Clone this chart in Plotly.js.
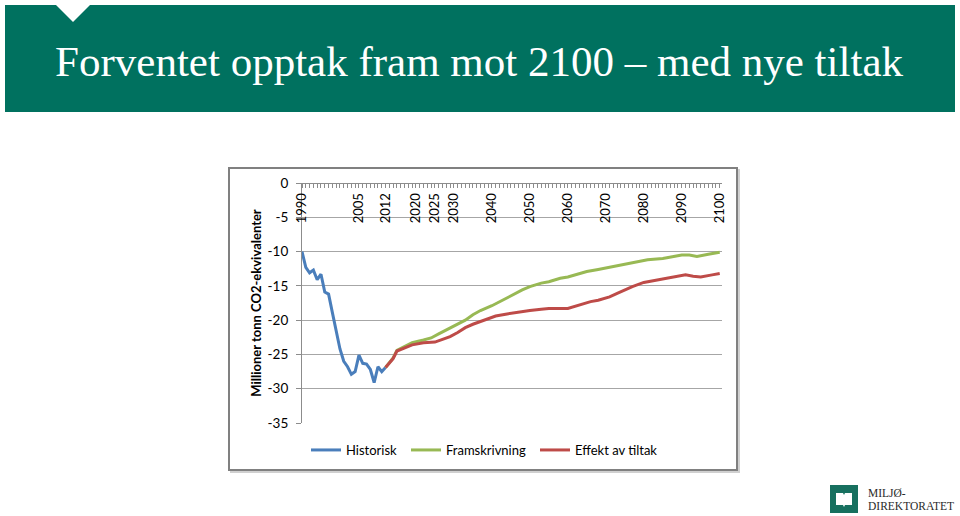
<!DOCTYPE html>
<html>
<head>
<meta charset="utf-8">
<script src="https://cdn.plot.ly/plotly-3.0.1.min.js"></script>
<style>
  html, body { margin: 0; padding: 0; background: #ffffff; }
  #chart { width: 960px; height: 516px; }
</style>
</head>
<body>
<div id="chart"></div>
<script>
// ---------- data ----------
const histYears = [1990,1991,1992,1993,1994,1995,1996,1997,1998,1999,2000,2001,2002,2003,2004,2005,2006,2007,2008,2009,2010,2011,2012];
const historisk = [-10.0,-12.3,-13.1,-12.7,-14.1,-13.3,-15.9,-16.2,-18.9,-21.6,-24.2,-26.0,-26.8,-27.9,-27.5,-25.1,-26.3,-26.4,-27.2,-29.1,-26.8,-27.5,-26.9];

const framYears = [2012,2013,2014,2015,2017,2019,2022,2024,2026,2028,2030,2033,2035,2037,2040,2042,2045,2048,2050,2053,2055,2058,2060,2063,2065,2068,2071,2074,2078,2081,2085,2088,2090,2092,2094,2097,2100];
const framskrivning = [-26.9,-26.2,-25.5,-24.4,-23.9,-23.3,-22.9,-22.6,-22.0,-21.4,-20.9,-20.0,-19.2,-18.6,-17.9,-17.3,-16.4,-15.6,-15.1,-14.6,-14.4,-13.9,-13.7,-13.2,-12.9,-12.6,-12.3,-11.9,-11.5,-11.2,-11.0,-10.7,-10.5,-10.5,-10.7,-10.4,-10.1];

const tiltakYears = [2012,2013,2014,2015,2017,2019,2022,2025,2027,2029,2031,2033,2035,2037,2039,2041,2044,2047,2050,2053,2055,2060,2063,2066,2068,2071,2073,2075,2077,2080,2083,2086,2089,2091,2093,2095,2098,2100];
const effektAvTiltak = [-26.9,-26.2,-25.6,-24.5,-24.1,-23.6,-23.3,-23.2,-22.8,-22.4,-21.8,-21.1,-20.6,-20.2,-19.7,-19.4,-19.1,-18.8,-18.6,-18.4,-18.3,-18.3,-17.8,-17.3,-17.1,-16.6,-16.1,-15.6,-15.1,-14.5,-14.2,-14.0,-13.6,-13.4,-13.6,-13.7,-13.4,-13.2];

const xTickYears = [1990,2005,2012,2020,2025,2030,2040,2050,2060,2070,2080,2090,2100];
const yTicks = [0,-5,-10,-15,-20,-25,-30,-35];
const yTickLabels = ["0","-5","-10","-15","-20","-25","-30","-35"];

const seriesNames = ["Historisk","Framskrivning","Effekt av tiltak"];
const titleText = "Forventet opptak fram mot 2100 – med nye tiltak";
const yTitle = "Millioner tonn CO2-ekvivalenter";

// ---------- layout helpers (pixel -> paper) ----------
const L = 302, T = 183, W = 420, H = 240, R = 960 - L - W, B = 516 - T - H;
const X = px => (px - L) / W;
const Y = py => (T + H - py) / H;

const font = "Lato, 'Noto Sans', sans-serif";
const legendFont = {family: font, size: 13, color: "#000000"};

const traces = [
  {x: histYears, y: historisk, name: seriesNames[0], type: "scatter", mode: "lines", legend: "legend",
   line: {color: "#4A7EBB", width: 3}},
  {x: framYears, y: framskrivning, name: seriesNames[1], type: "scatter", mode: "lines", legend: "legend2",
   line: {color: "#98B954", width: 3}},
  {x: tiltakYears, y: effektAvTiltak, name: seriesNames[2], type: "scatter", mode: "lines", legend: "legend3",
   line: {color: "#BE4B48", width: 3}}
];

function legendAt(px) {
  return {orientation: "h", x: X(px), xanchor: "left", y: Y(450), yanchor: "middle",
          bgcolor: "rgba(0,0,0,0)", borderwidth: 0, font: legendFont};
}

const layout = {
  width: 960, height: 516,
  margin: {l: L, r: R, t: T, b: B, pad: 0},
  paper_bgcolor: "#ffffff", plot_bgcolor: "#ffffff",
  showlegend: true,
  font: {family: font, size: 13, color: "#000000"},
  title: {
    text: titleText, xref: "container", yref: "container",
    x: 0.499, xanchor: "center", y: 1 - 61/516, yanchor: "middle",
    font: {family: "'Liberation Serif', 'DejaVu Serif', serif", size: 43, color: "#ffffff"}
  },
  xaxis: {
    type: "linear", range: [1990, 2100.6],
    anchor: "free", position: 1, side: "bottom",
    tickmode: "array", tickvals: xTickYears, ticktext: xTickYears.map(String),
    tickangle: -90, ticks: "outside", ticklen: 4, tickcolor: "#8c8c8c", tickwidth: 1,
    minor: {dtick: 1, tick0: 1990, ticks: "outside", ticklen: 4, tickcolor: "#8c8c8c", showgrid: false},
    showgrid: false, zeroline: false,
    showline: true, linecolor: "#8c8c8c", linewidth: 1,
    tickfont: {family: font, size: 13, color: "#000000"},
    fixedrange: true
  },
  yaxis: {
    range: [-35, 0], tickmode: "array", tickvals: yTicks, ticktext: yTickLabels,
    ticks: "outside", ticklen: 5, tickcolor: "#8c8c8c", ticklabelstandoff: 5,
    showgrid: true, gridcolor: "#a6a6a6", gridwidth: 1, zeroline: false,
    showline: true, linecolor: "#8c8c8c", linewidth: 1,
    tickfont: {family: font, size: 13.5, color: "#000000"},
    title: {text: yTitle, standoff: 3, font: {family: font, size: 13, color: "#000000", weight: "bold"}},
    fixedrange: true
  },
  legend: legendAt(306),
  legend2: legendAt(406),
  legend3: legendAt(535),
  shapes: [
    // header band
    {type: "rect", xref: "paper", yref: "paper", x0: X(5), x1: X(955), y0: Y(5), y1: Y(112),
     fillcolor: "#00715F", line: {width: 0}, layer: "below"},
    // notch
    {type: "path", xref: "paper", yref: "paper",
     path: `M ${X(55)},${Y(4)} L ${X(91)},${Y(4)} L ${X(73)},${Y(22)} Z`,
     fillcolor: "#ffffff", line: {width: 0}, layer: "below"},
    // chart frame shadow
    {type: "rect", xref: "paper", yref: "paper", x0: X(231), x1: X(739), y0: Y(170), y1: Y(472),
     fillcolor: "rgba(0,0,0,0)", line: {color: "#d0d0d0", width: 2}, layer: "below"},
    // chart frame
    {type: "rect", xref: "paper", yref: "paper", x0: X(229), x1: X(737), y0: Y(168), y1: Y(470),
     fillcolor: "#ffffff", line: {color: "#808080", width: 2}, layer: "below"},
    // logo square
    {type: "rect", xref: "paper", yref: "paper", x0: X(830), x1: X(858), y0: Y(485), y1: Y(513),
     fillcolor: "#17705F", line: {width: 0}},
    // logo book
    {type: "path", xref: "paper", yref: "paper",
     path: `M ${X(836)},${Y(493)} L ${X(843)},${Y(493)} L ${X(844)},${Y(495)} L ${X(845)},${Y(493)} L ${X(852)},${Y(493)} L ${X(852)},${Y(505)} L ${X(845)},${Y(505)} L ${X(844)},${Y(507)} L ${X(843)},${Y(505)} L ${X(836)},${Y(505)} Z`,
     fillcolor: "#ffffff", line: {width: 0}}
  ],
  annotations: [
    {text: "MILJØ-", xref: "paper", yref: "paper", x: X(866), y: Y(493), xanchor: "left", yanchor: "middle",
     showarrow: false, font: {family: "'Liberation Serif', serif", size: 11.5, color: "#2a2a2a"}},
    {text: "DIREKTORATET", xref: "paper", yref: "paper", x: X(866), y: Y(506), xanchor: "left", yanchor: "middle",
     showarrow: false, font: {family: "'Liberation Serif', serif", size: 11.5, color: "#2a2a2a"}}
  ]
};

Plotly.newPlot("chart", traces, layout, {displayModeBar: false, staticPlot: true});
</script>
</body>
</html>
